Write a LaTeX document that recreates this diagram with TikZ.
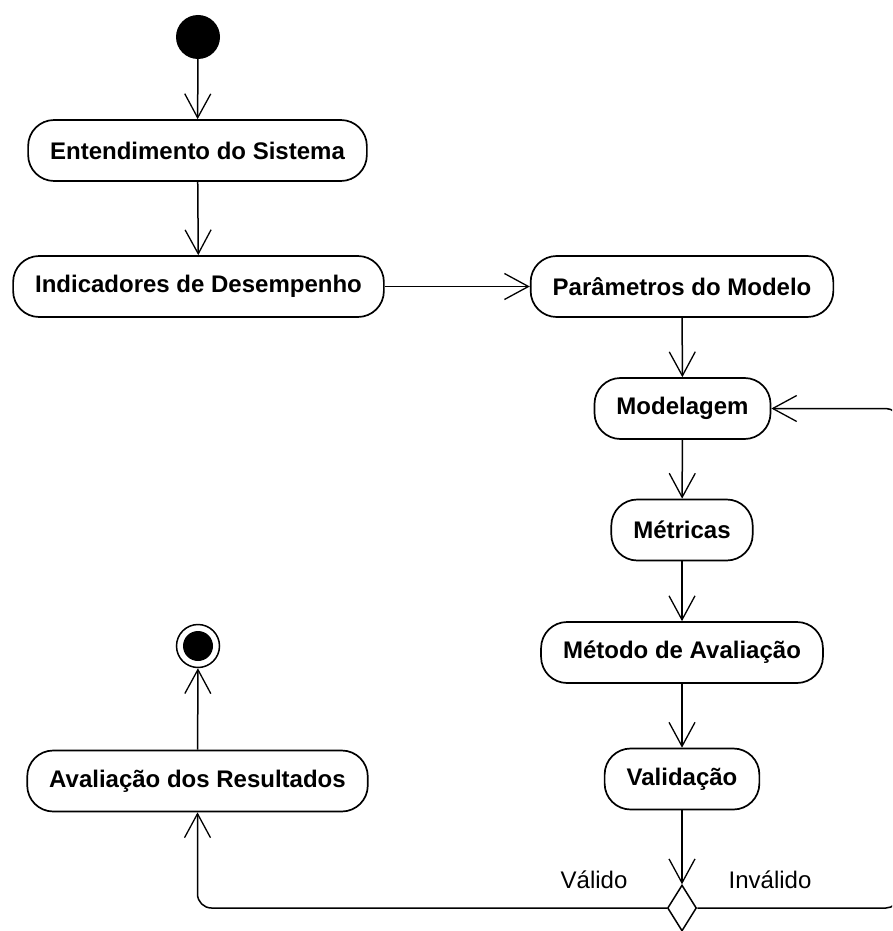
\documentclass[tikz,border=0pt]{standalone}
\usepackage{fontspec}
\setmainfont{Liberation Sans}
\usetikzlibrary{arrows.meta,shapes.geometric}
\begin{document}
\begin{tikzpicture}[x=1pt,y=-1pt,
  act/.style={draw, line width=1.7pt, rounded corners=26pt, minimum height=61pt,
    inner xsep=22pt, font=\fontsize{24}{28}\selectfont\bfseries},
  flow/.style={line width=1.5pt, -{Straight Barb[length=24pt,width=26pt,line width=1.3pt]}},
  guard/.style={font=\fontsize{24}{28}\selectfont}]
\useasboundingbox (0,0) rectangle (892,931);
\clip (0,0) rectangle (892,931);

% initial and final states
\node[circle, fill, inner sep=0pt, minimum size=44pt] (start) at (198,37) {};
\node[circle, draw, line width=1.5pt, inner sep=0pt, minimum size=43pt] (final) at (198,646) {};
\node[circle, fill, inner sep=0pt, minimum size=30pt] (finaldot) at (final.center) {};

% activities
\node[act] (ent) at (197.5,150.5) {Entendimento do Sistema};
\node[act] (ind) at (198.5,286.5) {Indicadores de Desempenho};
\node[act] (par) at (682,286.5) {Parâmetros do Modelo};
\node[act] (mod) at (682.5,408.5) {Modelagem};
\node[act] (met) at (682,530) {Métricas};
\node[act] (mav) at (682,652.5) {Método de Avaliação};
\node[act] (val) at (682,779) {Validação};
\node[act] (avr) at (197.5,781) {Avaliação dos Resultados};

% decision
\node[diamond, draw, line width=1.5pt, inner sep=0pt, minimum width=29pt,
  minimum height=46pt] (dec) at (682,908) {};
\coordinate (turn) at (898,408.5);

% transitions
\draw[flow] (start) -- (ent);
\draw[flow] (ent) -- (ind);
\draw[flow] (ind) -- (par);
\draw[flow] (par) -- (mod);
\draw[flow] (mod) -- (met);
\draw[flow] (met) -- (mav);
\draw[flow] (mav) -- (val);
\draw[flow] (val) -- (dec);
\draw[flow, rounded corners=14pt] (dec.west) -| (avr.south);
\draw[flow, rounded corners=12pt] (dec.east) -| (turn) -- (mod.east);
\draw[flow] (avr) -- (final);

% guards
\node[guard] (gval) at (594,880) {Válido};
\node[guard] (ginv) at (770,880) {Inválido};
\end{tikzpicture}
\end{document}
